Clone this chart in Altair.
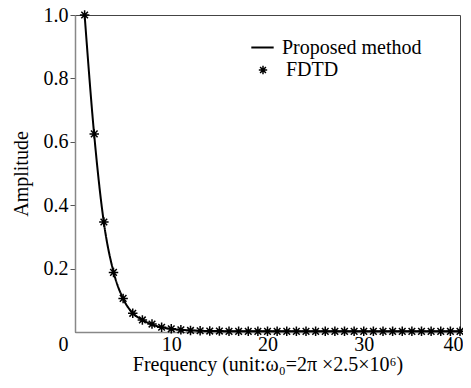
import altair as alt
import pandas as pd

# FDTD samples
fdtd_x = list(range(1, 41))
fdtd_y = [1.0, 0.625, 0.347, 0.188, 0.106, 0.059, 0.038, 0.025, 0.015, 0.010,
          0.007, 0.005, 0.004, 0.003, 0.003, 0.002, 0.002, 0.002, 0.002, 0.002,
          0.002, 0.002, 0.002, 0.002, 0.002, 0.002, 0.002, 0.002, 0.002, 0.002,
          0.002, 0.002, 0.002, 0.002, 0.002, 0.002, 0.002, 0.002, 0.002, 0.002]

# Proposed method curve
line_x = list(range(1, 41))
line_y = [1.0, 0.62, 0.345, 0.19, 0.105, 0.060, 0.038, 0.024, 0.015, 0.010,
          0.007, 0.005, 0.004, 0.003, 0.003, 0.002, 0.002, 0.002, 0.002, 0.002,
          0.002, 0.002, 0.002, 0.002, 0.002, 0.002, 0.002, 0.002, 0.002, 0.002,
          0.002, 0.002, 0.002, 0.002, 0.002, 0.002, 0.002, 0.002, 0.002, 0.002]

x_ticks = [0, 10, 20, 30, 40]
y_ticks = [0.2, 0.4, 0.6, 0.8, 1.0]

df_line = pd.DataFrame({"x": line_x, "y": line_y, "series": "Proposed method"})
df_pts = pd.DataFrame({"x": fdtd_x, "y": fdtd_y, "series": "FDTD"})

FONT = "Liberation Serif"
FS = 20
STAR = "M-1,0L1,0M0,-1L0,1M-0.7,-0.7L0.7,0.7M-0.7,0.7L0.7,-0.7"

xenc = alt.X("x:Q", scale=alt.Scale(domain=[0, 40], nice=False),
             axis=alt.Axis(values=x_ticks, title="Frequency (unit:ω₀=2π ×2.5×10⁶)",
                           grid=False, ticks=False, labelPadding=2, titlePadding=0,
                           labelFlush=False,
                           labelAlign={"condition": {"test": "datum.value === 40", "value": "right"}, "value": "center"},
                           labelOffset={"condition": [{"test": "datum.value === 0", "value": -12},
                                                      {"test": "datum.value === 40", "value": 3}], "value": 0},
                           domainColor="#888", domainWidth=1.5))
yenc = alt.Y("y:Q", scale=alt.Scale(domain=[0, 1.0], nice=False),
             axis=alt.Axis(values=y_ticks, format=".1f", title="Amplitude", grid=False,
                           tickSize=5, tickColor="#555", labelPadding=2, titlePadding=12,
                           domainColor="#888", domainWidth=1.5))

line = alt.Chart(df_line).mark_line(color="black", strokeWidth=2, interpolate="monotone").encode(
    x=xenc, y=yenc,
    strokeDash=alt.StrokeDash("series:N",
                              scale=alt.Scale(domain=["Proposed method"], range=[[1, 0]]),
                              legend=alt.Legend(title=None, orient="none", legendX=175, legendY=20,
                                                symbolSize=500, symbolStrokeWidth=2,
                                                symbolStrokeColor="black", labelFontSize=FS,
                                                labelFont=FONT, labelColor="black", padding=0,
                                                labelOffset=7)),
)

pts = alt.Chart(df_pts).mark_point(filled=False, color="black", strokeWidth=1.5, size=90, opacity=1).encode(
    x="x:Q", y="y:Q",
    shape=alt.Shape("series:N",
                    scale=alt.Scale(domain=["FDTD"], range=[STAR]),
                    legend=alt.Legend(title=None, orient="none", legendX=178, legendY=45,
                                      symbolSize=70, symbolStrokeWidth=1.5,
                                      symbolStrokeColor="black", symbolFillColor="transparent",
                                      labelFontSize=FS, labelFont=FONT, labelColor="black",
                                      padding=0, labelOffset=13)),
)

chart = alt.layer(line, pts).properties(
    width=385, height=317,
    autosize=alt.AutoSizeParams(type="none"),
    padding={"left": 67, "top": 7, "right": 3, "bottom": 46},
).configure_view(stroke="#444", strokeWidth=1).configure_axis(
    labelFont=FONT, titleFont=FONT, labelFontSize=FS, titleFontSize=FS,
    labelColor="black", titleColor="black", titleFontWeight="normal",
)

chart.save("out.html", embed_options={"renderer": "svg", "actions": False})
